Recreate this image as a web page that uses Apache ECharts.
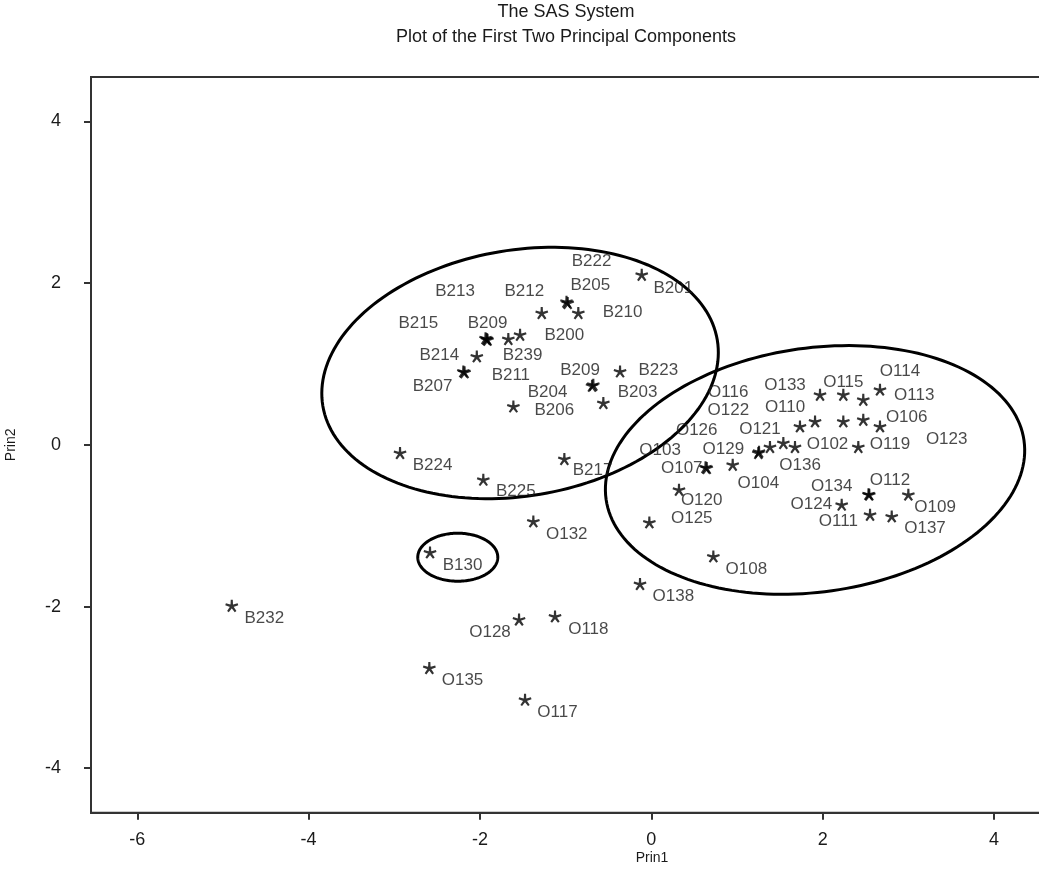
<!DOCTYPE html>
<html>
<head>
<meta charset="utf-8">
<script src="https://cdn.jsdelivr.net/npm/echarts@6/dist/echarts.min.js"></script>
<style>
  html, body { margin: 0; padding: 0; background: #fff; overflow: hidden; }
  #chart { width: 1039px; height: 871px; }
</style>
</head>
<body>
<div id="chart"></div>
<script>
// ---- data ----
const names = [
  'B201','B222','B205','B210','B212','B213','B215','B209','B239','B200',
  'B214','B207','B211','B223','B209','B204','B203','B206','B224','B225',
  'B217','B130','B232','O132','O128','O118','O135','O117','O138','O108',
  'O133','O115','O114','O113','O106','O123','O119','O102','O136','O121',
  'O110','O122','O116','O126','O129','O103','O107','O104','O120','O125',
  'O124','O134','O112','O109','O111','O137'
];
const prin1 = [
  -0.112,-0.990,-0.976,-0.852,-1.279,-1.935,-1.912,-1.921,-1.669,-1.532,
  -2.037,-2.194,-2.180,-0.365,-0.677,-0.692,-0.560,-1.610,-2.933,-1.961,
  -1.015,-2.583,-4.897,-1.377,-1.544,-1.124,-2.591,-1.474,-0.132, 0.724,
   1.969, 2.241, 2.669, 2.474, 2.669, 2.474, 2.416, 1.677, 1.541, 1.735,
   1.911, 2.241, 1.385, 1.257, 1.249, 0.633, 0.647, 0.950, 0.323,-0.023,
   2.222, 2.544, 2.535, 3.000, 2.553, 2.806
];
const prin2 = [
   2.101, 1.767, 1.751, 1.628, 1.628, 1.316, 1.297, 1.306, 1.306, 1.359,
   1.091, 0.905, 0.895, 0.905, 0.741, 0.728, 0.515, 0.472,-0.104,-0.434,
  -0.178,-1.333,-1.993,-0.950,-2.164,-2.125,-2.763,-3.155,-1.724,-1.383,
   0.617, 0.617, 0.680, 0.555, 0.225, 0.308,-0.030,-0.030, 0.020, 0.225,
   0.287, 0.287,-0.030,-0.088,-0.104,-0.280,-0.289,-0.249,-0.558,-0.962,
  -0.743,-0.619,-0.613,-0.619,-0.867,-0.888
];
const xTicks = [-6, -4, -2, 0, 2, 4];
const yTicks = [-4, -2, 0, 2, 4];

// ---- layout / style (label placement in pixels, relative to each point) ----
const labelOffsets = [
  [31.6,13.3],[25,-41],[22.6,-17.5],[44.2,-0.8],[-17.5,-21.6],[-30.5,-46.8],[-69.2,-16.7],[0.8,-16],[14.2,15.7],[44.2,0],
  [-37.5,-1.7],[-30.8,15],[46.3,2.5],[38.3,-0.9],[-13.3,-14.2],[-44.5,6.5],[34.2,-10.8],[40.9,4.1],[32.5,12.5],[32.5,11.7],
  [28.2,10.7],[32.5,12.3],[32.5,12.3],[33.4,12.5],[-29,12.5],[33.3,12.5],[33.2,11.7],[32.5,12.5],[33.3,12.4],[33,13],
  [-35,-9.2],[0,-12.5],[20,-18.3],[50.9,-4.2],[26.7,-9.2],[83.4,19.2],[31.7,-3.1],[32.5,-3.1],[16.7,21.7],[-40,2.5],
  [-30,-14.2],[-115,-10.9],[-41.7,-54.8],[-62.3,-21.2],[-35,-4.1],[-45.5,-16.7],[-25,0],[25.6,18.3],[22.7,10],[42.4,-4.4],
  [-30.4,-0.8],[-37.6,-8.3],[21.5,-14.5],[26.7,12.5],[-31.7,6.7],[33.3,11.6]
];
// hand-drawn grouping ellipses (annotation shapes, in data units)
const ellipses = [
  { cx: -1.532, cy: 0.889, rx: 2.334, ry: 1.521, tilt: 9.5 },
  { cx: 1.911, cy: -0.310, rx: 2.463, ry: 1.509, tilt: 8 },
  { cx: -2.259, cy: -1.390, rx: 0.467, ry: 0.297, tilt: 0 }
];

// five-armed asterisk glyph as a symbol path
function asteriskPath() {
  const arms = [-90, -18, 54, 126, 198];
  const L = 50, w = 10, c = 50;
  let d = '';
  arms.forEach(a => {
    const r = a * Math.PI / 180;
    const ux = Math.cos(r), uy = Math.sin(r);
    const px = -uy, py = ux;
    const p = [
      [c + px * w, c + py * w],
      [c + ux * L + px * w * 0.8, c + uy * L + py * w * 0.8],
      [c + ux * L - px * w * 0.8, c + uy * L - py * w * 0.8],
      [c - px * w, c - py * w]
    ];
    d += 'M' + p.map(q => q[0].toFixed(2) + ' ' + q[1].toFixed(2)).join(' L') + ' Z ';
  });
  return 'path://' + d;
}

const FONT = "'Liberation Sans', Arial, sans-serif";
const INK = '#1a1a1a';

const chart = echarts.init(document.getElementById('chart'), null, { renderer: 'canvas' });

const points = names.map((n, i) => ({
  value: [prin1[i], prin2[i]],
  name: n,
  label: { offset: labelOffsets[i] }
}));

const option = {
  backgroundColor: '#fff',
  animation: false,
  grid: {
    left: 91, top: 77, right: -3, bottom: 58.3,
    outerBoundsMode: 'none',
    containLabel: false,
    show: true, borderColor: '#333', borderWidth: 2, backgroundColor: 'transparent'
  },
  graphic: [
    { type: 'text', x: 566, y: 12, style: { text: 'The SAS System', font: "18px " + FONT, fill: INK, textAlign: 'center', textVerticalAlign: 'middle' } },
    { type: 'text', x: 566, y: 37, style: { text: 'Plot of the First Two Principal Components', font: "18px " + FONT, fill: INK, textAlign: 'center', textVerticalAlign: 'middle' } },
    { type: 'text', x: 652, y: 858, style: { text: 'Prin1', font: "14px " + FONT, fill: INK, textAlign: 'center', textVerticalAlign: 'middle' } }
  ],
  xAxis: {
    type: 'value', min: -6.54, max: 4.56,
    axisLine: { show: true, onZero: false, lineStyle: { color: '#333', width: 2 } },
    axisTick: { show: true, length: 7, customValues: xTicks, lineStyle: { color: '#333', width: 2 } },
    axisLabel: { customValues: xTicks, margin: 18, fontSize: 18, fontFamily: FONT, color: INK },
    splitLine: { show: false }
  },
  yAxis: {
    type: 'value', min: -4.55, max: 4.55,
    name: 'Prin2', nameLocation: 'middle', nameGap: 73, nameRotate: 90,
    nameTextStyle: { fontSize: 14, fontFamily: FONT, color: INK },
    axisLine: { show: true, onZero: false, lineStyle: { color: '#333', width: 2 } },
    axisTick: { show: true, length: 7, customValues: yTicks, lineStyle: { color: '#333', width: 2 } },
    axisLabel: { customValues: yTicks, margin: 30, fontSize: 18, fontFamily: FONT, color: INK },
    splitLine: { show: false }
  },
  series: [
    {
      type: 'custom',
      silent: true,
      z: 1,
      data: ellipses.map(e => [e.cx, e.cy]),
      encode: { x: 0, y: 1 },
      renderItem: function (params, api) {
        const e = ellipses[params.dataIndex];
        const c = api.coord([e.cx, e.cy]);
        const s = api.size([e.rx, e.ry]);
        const th = e.tilt * Math.PI / 180;
        const pts = [];
        const N = 180;
        for (let k = 0; k < N; k++) {
          const t = k / N * Math.PI * 2;
          const ux = s[0] * Math.cos(t), uy = s[1] * Math.sin(t);
          pts.push([c[0] + ux * Math.cos(th) + uy * Math.sin(th),
                    c[1] - ux * Math.sin(th) + uy * Math.cos(th)]);
        }
        return {
          type: 'polygon',
          shape: { points: pts },
          style: { fill: 'none', stroke: '#000', lineWidth: 3 }
        };
      }
    },
    {
      type: 'scatter',
      z: 2,
      symbol: asteriskPath(),
      symbolSize: 13,
      symbolKeepAspect: true,
      itemStyle: { color: '#000' },
      label: {
        show: true,
        position: 'inside',
        formatter: p => p.name,
        fontSize: 17,
        fontFamily: FONT,
        color: INK
      },
      data: points
    }
  ]
};

chart.setOption(option);
</script>
</body>
</html>
